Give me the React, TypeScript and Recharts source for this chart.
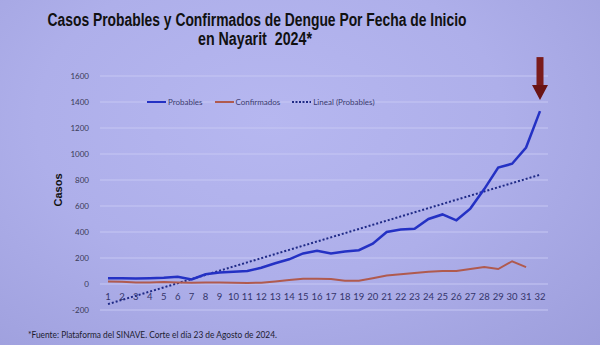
import React from 'react';
import {
    LineChart,
    Line,
    XAxis,
    YAxis,
    CartesianGrid
} from 'recharts';

const weeks = ['1', '2', '3', '4', '5', '6', '7', '8', '9', '10', '11', '12', '13', '14', '15', '16',
    '17', '18', '19', '20', '21', '22', '23', '24', '25', '26', '27', '28', '29', '30', '31', '32'];

const probables = [45, 45, 42, 45, 48, 55, 35, 75, 88, 95, 100, 125, 160, 190, 235, 255,
    235, 250, 260, 310, 400, 420, 425, 500, 535, 490, 580, 730, 895, 925, 1050, 1330];

const confirmados = [20, 18, 12, 12, 15, 12, 10, 12, 12, 10, 8, 10, 20, 30, 40, 40,
    38, 25, 25, 45, 65, 75, 85, 95, 100, 100, 115, 130, 115, 175, 130, null];

const yTicks = [-200, 0, 200, 400, 600, 800, 1000, 1200, 1400, 1600];

// least squares fit, same as the "Lineal (Probables)" trendline
const fitLine = (ys: number[]) => {
    const n = ys.length;
    const mx = (n + 1) / 2;
    const my = ys.reduce((a, b) => a + b, 0) / n;
    let num = 0;
    let den = 0;
    ys.forEach((y, i) => {
        num += (i + 1 - mx) * (y - my);
        den += (i + 1 - mx) * (i + 1 - mx);
    });
    const slope = num / den;
    return ys.map((_, i) => my + slope * (i + 1 - mx));
};

const trend = fitLine(probables);

const data = weeks.map((w, i) => ({
    week: w,
    probables: probables[i],
    confirmados: confirmados[i],
    lineal: trend[i]
}));

const BLUE = '#2431c4';
const RED = '#b05a4e';
const NAVY = '#1f2a86';

const WeekTick = (props: any) => {
    const { x, y, payload } = props;
    return (
        <text x={x} y={y} dy={-10} textAnchor="middle" fontSize={9.5} fill="#34346a" fontFamily="Lato">
            {payload.value}
        </text>
    );
};

// arrow over the last Probables point
const ArrowDot = (props: any) => {
    const { cx, cy, index } = props;
    if (index !== probables.length - 1) return <g key={`d-${index}`} />;
    return (
        <g key={`d-${index}`}>
            <rect x={cx - 3.5} y={cy - 54} width={7} height={30} fill="#7a1b1b" />
            <polygon points={`${cx - 8},${cy - 26} ${cx + 8},${cy - 26} ${cx},${cy - 11}`} fill="#6a1414" />
        </g>
    );
};

const legendItems = [
    { label: 'Probables', color: BLUE, dash: undefined },
    { label: 'Confirmados', color: RED, dash: undefined },
    { label: 'Lineal (Probables)', color: NAVY, dash: '2 1.5' }
];

const App: React.FC = () => {
    return (
        <div style={{
            position: 'absolute', top: 0, left: 0, width: 600, height: 345, overflow: 'hidden',
            background: 'radial-gradient(ellipse at 45% 35%, #b6b7f0 0%, #aeafea 50%, #9d9edc 100%)'
        }}>
            <svg width={600} height={345} style={{ position: 'absolute', top: 0, left: 0 }}>
                <g fontFamily="Liberation Sans" fontWeight="bold" fill="#111">
                    <text x={257} y={26} fontSize={17.5} textAnchor="middle" textLength={419} lengthAdjust="spacingAndGlyphs">
                        Casos Probables y Confirmados de Dengue Por Fecha de Inicio
                    </text>
                    <text x={255} y={45} fontSize={17.5} textAnchor="middle" textLength={114} lengthAdjust="spacingAndGlyphs" style={{ whiteSpace: 'pre' }}>
                        en Nayarit  2024*
                    </text>
                    <text transform="translate(62,190) rotate(-90)" fontSize={11} textAnchor="middle">Casos</text>
                </g>
                <text x={28} y={338} fontFamily="Lato" fontSize={8.5} fill="#1c1c30" textLength={249} lengthAdjust="spacingAndGlyphs">
                    *Fuente: Plataforma del SINAVE. Corte el día 23 de Agosto de 2024.
                </text>
            </svg>
            <div style={{ position: 'absolute', top: 0, left: 0 }}>
                <LineChart width={600} height={345} data={data} margin={{ top: 76, right: 52, bottom: 15, left: 0 }}>
                    <CartesianGrid vertical={false} stroke="#c6c7f3" strokeWidth={1} />
                    <XAxis
                        dataKey="week"
                        interval={0}
                        height={20}
                        axisLine={false}
                        tickLine={false}
                        tickSize={0}
                        tickMargin={0}
                        padding={{ left: 8, right: 8 }}
                        tick={<WeekTick />}
                    />
                    <YAxis
                        domain={[-200, 1600]}
                        ticks={yTicks}
                        width={100}
                        axisLine={false}
                        tickLine={false}
                        tickSize={0}
                        tickMargin={11}
                        tick={{ fontSize: 8, fill: '#3a3a58', fontFamily: 'Lato' }}
                    />
                    <Line
                        type="linear"
                        dataKey="lineal"
                        stroke={NAVY}
                        strokeWidth={2}
                        strokeDasharray="2 2"
                        dot={false}
                        isAnimationActive={false}
                    />
                    <Line
                        type="linear"
                        dataKey="confirmados"
                        stroke={RED}
                        strokeWidth={2}
                        dot={false}
                        isAnimationActive={false}
                    />
                    <Line
                        type="linear"
                        dataKey="probables"
                        stroke={BLUE}
                        strokeWidth={2.5}
                        dot={ArrowDot}
                        activeDot={false}
                        isAnimationActive={false}
                    />
                </LineChart>
            </div>
            <div style={{
                position: 'absolute', top: 97, left: 147, display: 'flex', gap: 12,
                fontFamily: 'Lato', fontSize: 8, color: '#3a3a6e'
            }}>
                {legendItems.map(item => (
                    <div key={item.label} style={{ display: 'flex', alignItems: 'center', gap: 2 }}>
                        <svg width={19} height={6}>
                            <line x1={0} y1={3} x2={19} y2={3} stroke={item.color} strokeWidth={2} strokeDasharray={item.dash} />
                        </svg>
                        <span>{item.label}</span>
                    </div>
                ))}
            </div>
        </div>
    );
};

export default App;
